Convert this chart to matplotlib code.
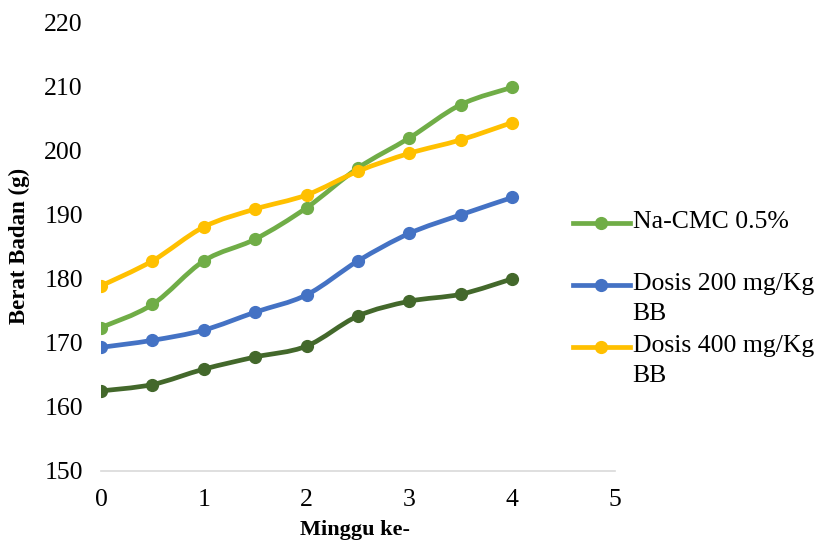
import numpy as np
import matplotlib
matplotlib.use("Agg")
import matplotlib.pyplot as plt
from matplotlib.path import Path
from matplotlib.patches import PathPatch
from matplotlib.lines import Line2D
from matplotlib.legend_handler import HandlerLine2D

plt.rcParams["font.family"] = ["Liberation Serif", "DejaVu Serif"]

# Body weight (g) per week
weeks = [0, 0.5, 1, 1.5, 2, 2.5, 3, 3.5, 4]
na_cmc = [172.4, 176.0, 182.8, 186.2, 191.1, 197.3, 202.0, 207.2, 209.9]
dosis_200 = [169.3, 170.4, 172.0, 174.8, 177.5, 182.8, 187.1, 190.0, 192.7]
dosis_400 = [178.9, 182.8, 188.1, 190.9, 193.1, 196.8, 199.6, 201.7, 204.4]
kelompok_4 = [162.5, 163.5, 165.9, 167.8, 169.5, 174.2, 176.5, 177.6, 180.0]

labels = ["Na-CMC 0.5%", "Dosis 200 mg/Kg\nBB", "Dosis 400 mg/Kg\nBB"]
x_ticks = [0, 1, 2, 3, 4, 5]
y_ticks = [150, 160, 170, 180, 190, 200, 210, 220]

GREEN = "#70AD47"
BLUE = "#4472C4"
YELLOW = "#FFC000"
DARK = "#43682B"


def smooth_path(x, y):
    """Catmull-Rom style cubic Bezier path through the points."""
    pts = np.column_stack([x, y]).astype(float)
    n = len(pts)
    verts = [pts[0]]
    codes = [Path.MOVETO]
    for i in range(n - 1):
        p0 = pts[i - 1] if i > 0 else pts[i]
        p1 = pts[i]
        p2 = pts[i + 1]
        p3 = pts[i + 2] if i + 2 < n else pts[i + 1]
        c1 = p1 + (p2 - p0) / 6.0
        c2 = p2 - (p3 - p1) / 6.0
        verts += [c1, c2, p2]
        codes += [Path.CURVE4] * 3
    return Path(verts, codes)


fig = plt.figure(figsize=(8.22, 5.45), dpi=100)
ax = fig.add_axes([0.1229, 0.1358, 0.6253, 0.8227])

series = [
    (kelompok_4, DARK),
    (dosis_200, BLUE),
    (na_cmc, GREEN),
    (dosis_400, YELLOW),
]
for z, (vals, col) in enumerate(series):
    patch = PathPatch(smooth_path(weeks, vals), facecolor="none", edgecolor=col,
                      lw=3.4, capstyle="round", joinstyle="round", zorder=2 + z)
    ax.add_patch(patch)
    ax.plot(weeks, vals, linestyle="none", marker="o", ms=8.5, color=col,
            zorder=2 + z)

ax.set_xlim(0, 5)
ax.set_ylim(150, 220)
ax.set_xticks(x_ticks)
ax.set_yticks(y_ticks)
ax.tick_params(axis="both", length=0, labelsize=18.5)
ax.tick_params(axis="y", pad=13)
ax.tick_params(axis="x", pad=13)
for side in ["top", "right", "left"]:
    ax.spines[side].set_visible(False)
ax.spines["bottom"].set_color("#D9D9D9")
ax.spines["bottom"].set_linewidth(1.2)
ax.spines["bottom"].set_zorder(1)

ax.set_xlabel("Minggu ke-", fontsize=16, fontweight="bold")
ax.set_ylabel("Berat Badan (g)", fontsize=16.5, fontweight="bold")
ax.xaxis.set_label_coords(0.494, -0.132)
ax.yaxis.set_label_coords(-0.158, 0.502)
ax.xaxis.label.set_verticalalignment("center")
ax.yaxis.label.set_verticalalignment("center")


class FirstLineHandler(HandlerLine2D):
    """Legend handle aligned with the first line of a two-line label."""

    def __init__(self, shift, **kw):
        super().__init__(**kw)
        self.shift = shift

    def create_artists(self, legend, orig_handle, xdescent, ydescent, width,
                       height, fontsize, trans):
        artists = super().create_artists(legend, orig_handle, xdescent,
                                         ydescent, width, height, fontsize,
                                         trans)
        for a in artists:
            a.set_ydata(np.asarray(a.get_ydata()) + self.shift * fontsize)
        return artists


handles = [Line2D([], [], color=c, lw=3.4, marker="o", ms=8.5)
           for c in (GREEN, BLUE, YELLOW)]
leg_labels = [labels[0] + "\n"] + labels[1:]
leg = fig.legend(handles, leg_labels, loc="upper left",
                 bbox_to_anchor=(573 / 822, 1 - 211 / 545),
                 frameon=False, fontsize=18.5, borderpad=0, borderaxespad=0,
                 handlelength=2.2, handletextpad=0.12, labelspacing=0.38,
                 handler_map={Line2D: FirstLineHandler(0.54, numpoints=1)})
for t in leg.get_texts():
    t.set_linespacing(1.48)

fig.savefig("out.png", dpi=100)
